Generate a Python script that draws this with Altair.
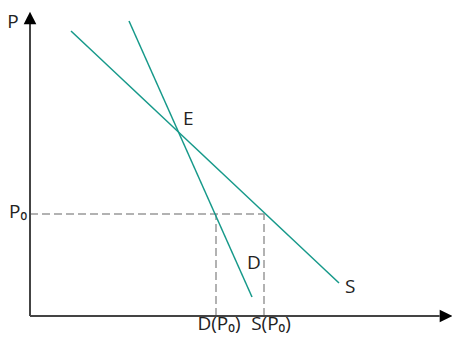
import altair as alt
import pandas as pd

# Supply (S) and demand (D) curves, in (quantity, price) units
S_q = [1.025, 7.725]
S_p = [9.5, 1.1]
D_q = [2.475, 5.55]
D_p = [9.833, 0.633]

# Price P0 and quantities at P0
P0 = 3.4
DQ0 = 4.65
SQ0 = 5.85

# axis extents
X_END = 10.24
Y_END = 9.733
X_ARROW = 10.4
Y_ARROW = 9.933

labels = ["P", "P₀", "E", "D", "S", "D(P₀)", "S(P₀)"]
label_q = [-0.425, -0.075, 3.825, 5.425, 7.875, 4.725, 6.025]
label_p = [9.6, 3.267, 6.367, 1.567, 0.767, -0.47, -0.47]
label_align = ["center", "right", "left", "left", "left", "center", "center"]

W, H = 444, 328
xs = alt.Scale(domain=[-0.55, 10.55], nice=False, zero=False)
ys = alt.Scale(domain=[-0.6667, 10.2667], nice=False, zero=False)

curves = pd.DataFrame({
    "q": S_q + D_q,
    "p": S_p + D_p,
    "c": ["S", "S", "D", "D"],
})
line_layer = alt.Chart(curves).mark_line(color="#16998a", strokeWidth=1.5).encode(
    x=alt.X("q:Q", scale=xs, axis=None),
    y=alt.Y("p:Q", scale=ys, axis=None),
    detail="c:N",
)

dashes = pd.DataFrame({
    "q": [0, DQ0, SQ0],
    "q2": [SQ0, DQ0, SQ0],
    "p": [P0, 0, 0],
    "p2": [P0, P0, P0],
})
dash_layer = alt.Chart(dashes).mark_rule(color="#999999", strokeWidth=1.5, strokeDash=[8, 4]).encode(
    x=alt.X("q:Q", scale=xs, axis=None),
    x2="q2:Q",
    y=alt.Y("p:Q", scale=ys, axis=None),
    y2="p2:Q",
)

axes = pd.DataFrame({
    "q": [0, 0],
    "q2": [X_END, 0],
    "p": [0, 0],
    "p2": [0, Y_END],
})
axis_layer = alt.Chart(axes).mark_rule(color="#444444", strokeWidth=2).encode(
    x=alt.X("q:Q", scale=xs, axis=None),
    x2="q2:Q",
    y=alt.Y("p:Q", scale=ys, axis=None),
    y2="p2:Q",
)

arrows = pd.DataFrame({
    "q": [0, X_ARROW],
    "p": [Y_ARROW, 0],
    "shape": ["M0,-1L1,1L-1,1Z", "M1,0L-1,1L-1,-1Z"],
})
arrow_layer = alt.Chart(arrows).mark_point(filled=True, color="black", opacity=1, size=160, strokeWidth=0).encode(
    x=alt.X("q:Q", scale=xs, axis=None),
    y=alt.Y("p:Q", scale=ys, axis=None),
    shape=alt.Shape("shape:N", scale=None),
)

text_layers = []
for t, q, p, a in zip(labels, label_q, label_p, label_align):
    df = pd.DataFrame({"t": [t], "q": [q], "p": [p]})
    text_layers.append(
        alt.Chart(df).mark_text(align=a, baseline="alphabetic", fontSize=19, font="Open Sans", color="#222222").encode(
            x=alt.X("q:Q", scale=xs, axis=None),
            y=alt.Y("p:Q", scale=ys, axis=None),
            text="t:N",
        )
    )

chart = alt.layer(dash_layer, line_layer, axis_layer, arrow_layer, *text_layers).properties(
    width=W, height=H, padding=0, autosize=alt.AutoSizeParams(type="none")
).configure_view(stroke=None)

chart.save("out.html", embed_options={"renderer": "svg", "actions": False})
